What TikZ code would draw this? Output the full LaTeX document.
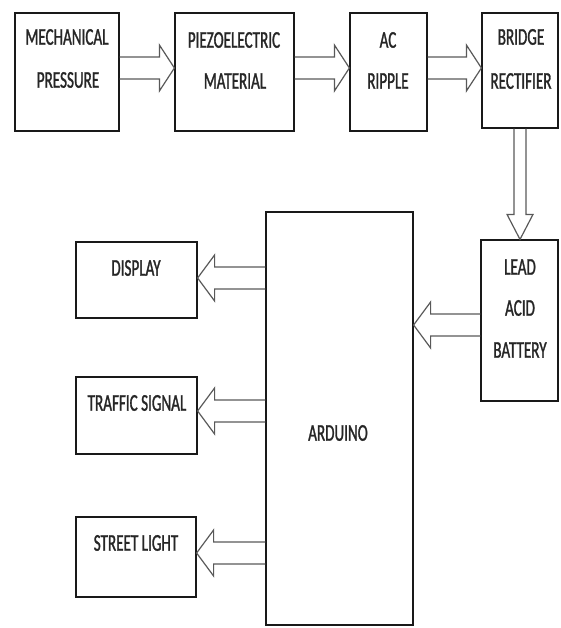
\documentclass[tikz,border=0pt]{standalone}
\usepackage{fontspec}
\newfontfamily\labfont[FakeStretch=0.63,FakeBold=1.2]{Carlito}
\usetikzlibrary{calc}
\tikzset{
  box/.style={draw=black!90, line width=1.2pt, inner sep=0pt, fill=none},
  lab/.style={font=\labfont\fontsize{24}{24}\selectfont, text=black!85, inner sep=0pt},
  harrowstyle/.style={draw=black!65, line width=1.2pt, line join=miter},
  rarrow/.style={harrowstyle, to path={let \p1=(\tikztostart),\p2=(\tikztotarget) in
     (\x1,\y1+11pt) -- (\x2-15pt,\y1+11pt) -- (\x2-15pt,\y1+23pt) -- (\x2,\y1)
     -- (\x2-15pt,\y1-23pt) -- (\x2-15pt,\y1-11pt) -- (\x1,\y1-11pt)}},
  larrow/.style={harrowstyle, to path={let \p1=(\tikztostart),\p2=(\tikztotarget) in
     (\x1,\y1+11pt) -- (\x2+17pt,\y1+11pt) -- (\x2+17pt,\y1+23pt) -- (\x2,\y1)
     -- (\x2+17pt,\y1-23pt) -- (\x2+17pt,\y1-11pt) -- (\x1,\y1-11pt)}},
  darrow/.style={harrowstyle, to path={let \p1=(\tikztostart),\p2=(\tikztotarget) in
     (\x1-6pt,\y1) -- (\x1-6pt,\y2+25pt) -- (\x1-13pt,\y2+25pt) -- (\x1,\y2)
     -- (\x1+13pt,\y2+25pt) -- (\x1+6pt,\y2+25pt) -- (\x1+6pt,\y1)}}
}
\begin{document}
\begin{tikzpicture}[x=1pt,y=-1pt]
\useasboundingbox (0,0) rectangle (560,628);
% boxes
\node[box, minimum width=104pt, minimum height=118pt] (mech) at (67,72) {};
\node[box, minimum width=119pt, minimum height=118pt] (piezo) at (234.5,72) {};
\node[box, minimum width=77pt, minimum height=118pt] (ac) at (388.5,72) {};
\node[box, minimum width=76pt, minimum height=115pt] (bridge) at (520,70.5) {};
\node[box, minimum width=77pt, minimum height=161pt] (battery) at (519.5,320.5) {};
\node[box, minimum width=147pt, minimum height=413pt] (arduino) at (339.5,418.5) {};
\node[box, minimum width=121pt, minimum height=76pt] (display) at (136.5,280) {};
\node[box, minimum width=121pt, minimum height=77pt] (traffic) at (136.5,415.5) {};
\node[box, minimum width=120pt, minimum height=80pt] (street) at (136,557) {};
% labels
\node[lab] (t1) at (67,37) {MECHANICAL};
\node[lab] (t2) at (68,80) {PRESSURE};
\node[lab] (t3) at (234,40) {PIEZOELECTRIC};
\node[lab] (t4) at (235,81) {MATERIAL};
\node[lab] (t5) at (388,40) {AC};
\node[lab] (t6) at (388,81) {RIPPLE};
\node[lab] (t7) at (521,37) {BRIDGE};
\node[lab] (t8) at (521,81) {RECTIFIER};
\node[lab] (t9) at (520,267) {LEAD};
\node[lab] (t10) at (520,308) {ACID};
\node[lab] (t11) at (520,350) {BATTERY};
\node[lab] (t12) at (136,268) {DISPLAY};
\node[lab] (t13) at (137,403) {TRAFFIC SIGNAL};
\node[lab] (t14) at (136,543) {STREET LIGHT};
\node[lab] (t15) at (338,433) {ARDUINO};
% connectors
\draw[rarrow] (mech.east |- 0,68) to (piezo.west |- 0,68);
\draw[rarrow] (piezo.east |- 0,68) to (ac.west |- 0,68);
\draw[rarrow] (ac.east |- 0,68) to (bridge.west |- 0,68);
\draw[darrow] (bridge.south) to (battery.north);
\draw[larrow] (battery.west |- 0,325) to (arduino.east |- 0,325);
\draw[larrow] (arduino.west |- 0,278) to (display.east |- 0,278);
\draw[larrow] (arduino.west |- 0,411) to (traffic.east |- 0,411);
\draw[larrow] (arduino.west |- 0,553) to (street.east |- 0,553);
\end{tikzpicture}
\end{document}
